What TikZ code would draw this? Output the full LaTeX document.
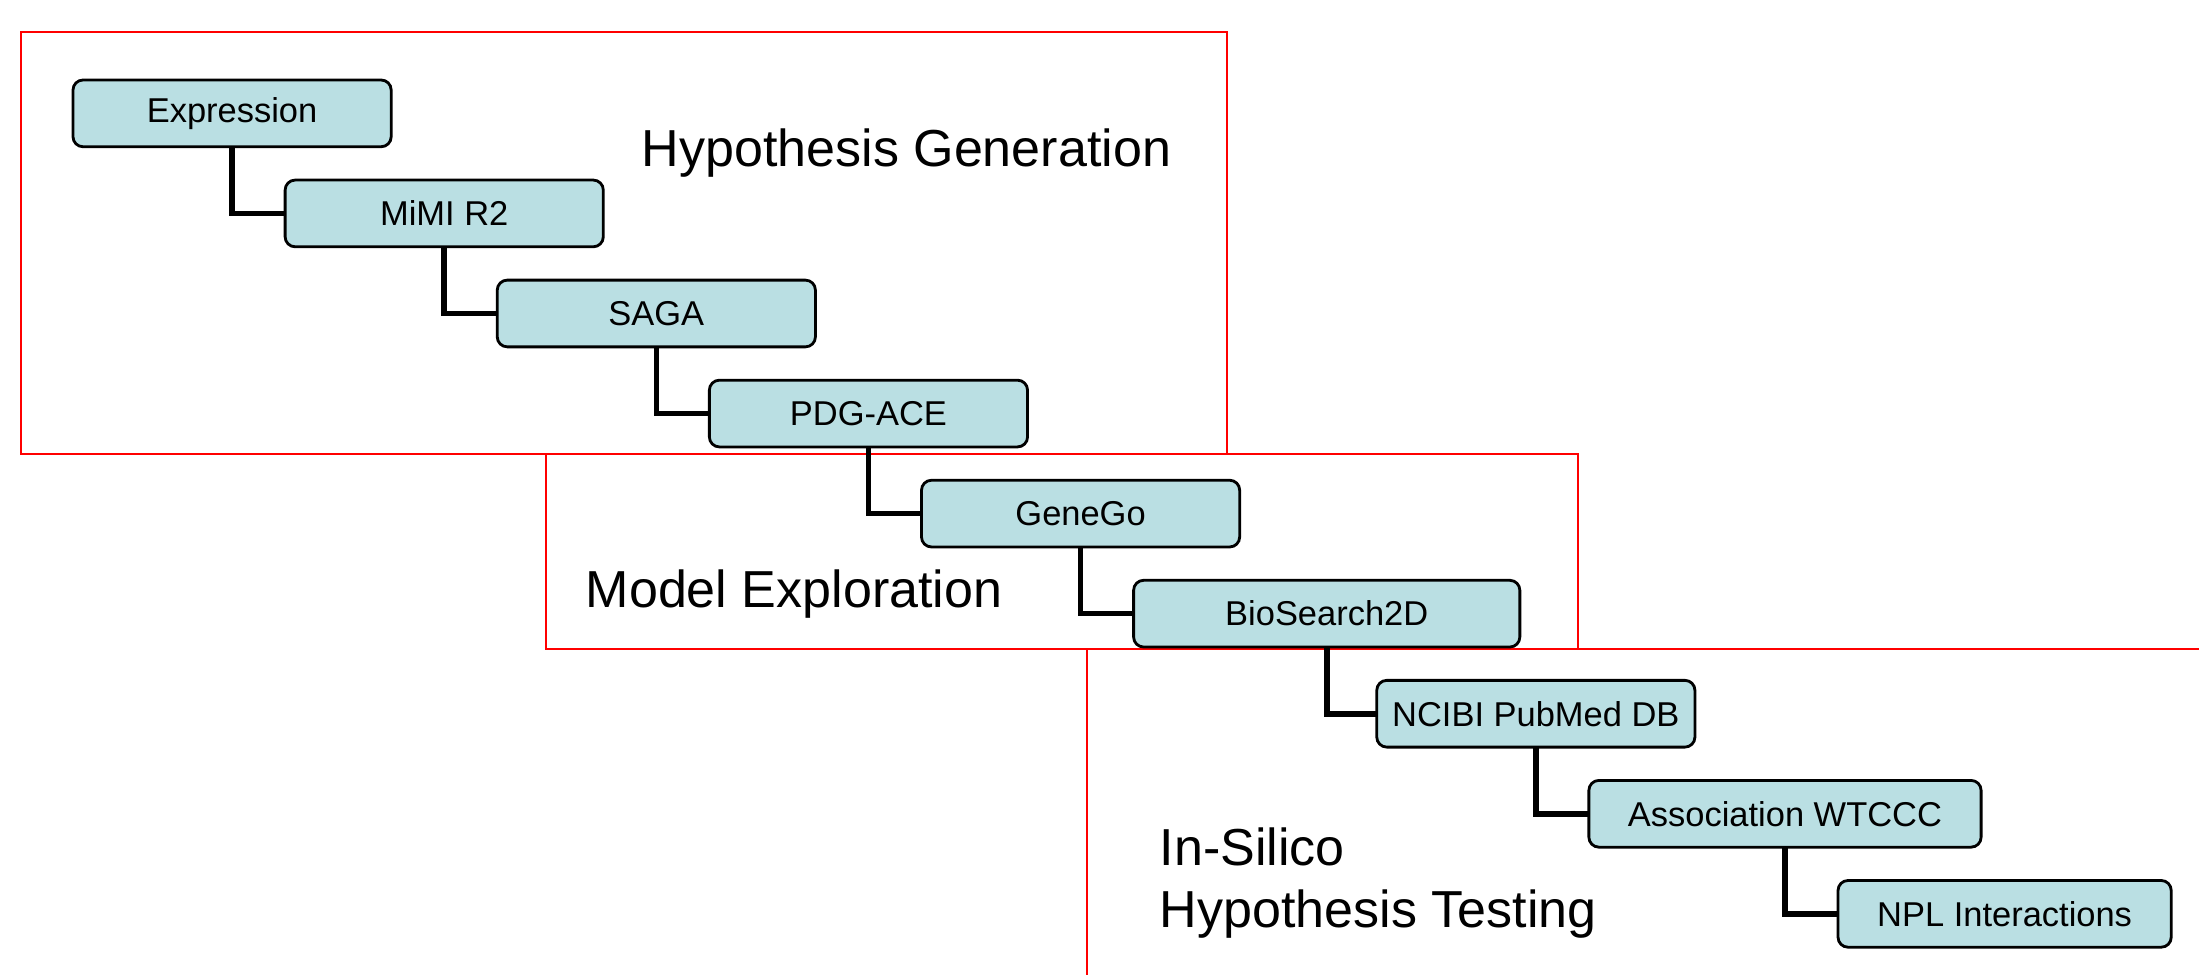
\documentclass[tikz,border=0pt]{standalone}
\usepackage{fontspec}
\setmainfont{Liberation Sans}
\usetikzlibrary{positioning}
\definecolor{toolfill}{RGB}{186,223,227}
\tikzset{
    tool/.style={rectangle, rounded corners=0.1cm, draw=black, line width=0.8pt, fill=toolfill, minimum width=3.18cm, minimum height=0.667cm, inner sep=0pt, outer sep=0pt, align=center, font=\fontsize{9.8}{11.8}\selectfont},
    stepafter/.style={below=0.333cm of #1.south, anchor=north west, xshift=0.53cm},
    link/.style={line width=1.6pt},
    stage/.style={draw=red, line width=0.6pt},
    phase/.style={anchor=base west, align=left, inner sep=0pt, font=\fontsize{14.8}{17.6}\selectfont}
}

\begin{document}
\begin{tikzpicture}[x=0.01cm, y=-0.01cm]
    \useasboundingbox (0,0) rectangle (2199,975);

    % Stage frames
    \draw [stage] (21,32) rectangle (1227,454);
    \draw [stage] (546,454) rectangle (1578,649);
    \draw [stage] (2199,649) -- (1087,649) -- (1087,975);

    % Tool chain
    \node (expr) [tool, anchor=north west] at (73,80) {Expression};
    \node (mimi) [tool, stepafter=expr] {MiMI R2};
    \node (saga) [tool, stepafter=mimi] {SAGA};
    \node (pdg) [tool, stepafter=saga] {PDG-ACE};
    \node (genego) [tool, stepafter=pdg] {GeneGo};
    \node (biosearch) [tool, stepafter=genego, minimum width=3.86cm] {BioSearch2D};
    \node (ncibi) [tool, below=0.333cm of biosearch.south, anchor=north west, xshift=0.5cm] {NCIBI PubMed DB};
    \node (wtccc) [tool, stepafter=ncibi, minimum width=3.92cm] {Association WTCCC};
    \node (npl) [tool, stepafter=wtccc, minimum width=3.33cm] {NPL Interactions};

    \draw [link] (expr.south) |- (mimi.west);
    \draw [link] (mimi.south) |- (saga.west);
    \draw [link] (saga.south) |- (pdg.west);
    \draw [link] (pdg.south) |- (genego.west);
    \draw [link] (genego.south) |- (biosearch.west);
    \draw [link] (biosearch.south) |- (ncibi.west);
    \draw [link] (ncibi.south) |- (wtccc.west);
    \draw [link] (wtccc.south) |- (npl.west);

    % Stage labels
    \node (hypgen) [phase] at (641,166) {Hypothesis Generation};
    \node (modexp) [phase] at (585,607) {Model Exploration};
    \node (insilico) [phase] at (1159,927) {In-Silico\\Hypothesis Testing};
\end{tikzpicture}
\end{document}
